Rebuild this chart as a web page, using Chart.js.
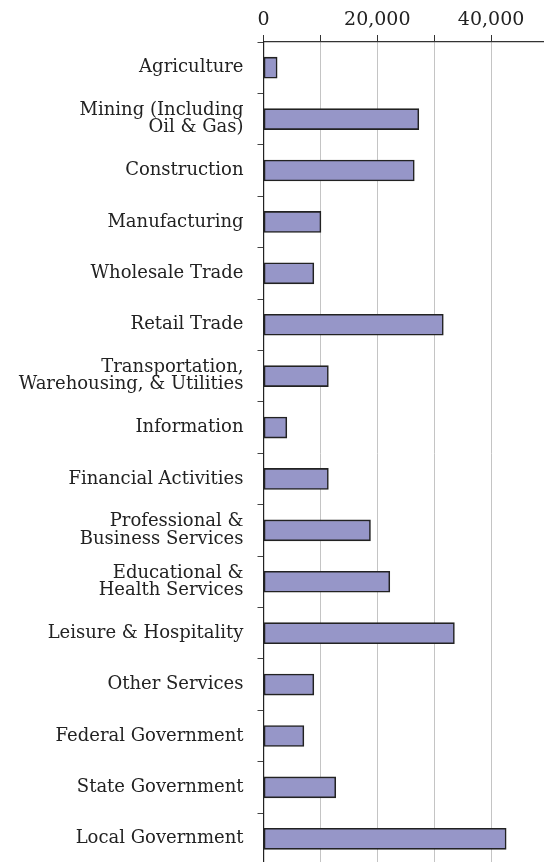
<!DOCTYPE html>
<html>
<head>
<meta charset="utf-8">
<script src="https://cdn.jsdelivr.net/npm/chart.js@4.4.1/dist/chart.umd.min.js"></script>
<style>
  html, body { margin: 0; padding: 0; background: #fff; overflow: hidden; }
  canvas { display: block; }
</style>
</head>
<body>
<canvas id="industryChart" width="548" height="866"></canvas>
<script>
// Data
const industries = [
  'Agriculture',
  ['Mining (Including', 'Oil & Gas)'],
  'Construction',
  'Manufacturing',
  'Wholesale Trade',
  'Retail Trade',
  ['Transportation,', 'Warehousing, & Utilities'],
  'Information',
  'Financial Activities',
  ['Professional &', 'Business Services'],
  ['Educational &', 'Health Services'],
  'Leisure & Hospitality',
  'Other Services',
  'Federal Government',
  'State Government',
  'Local Government'
]
const workers = [2400, 27300, 26500, 10100, 8850, 31600, 11400, 4100, 11400, 18800, 22200, 33550, 8850, 7100, 12700, 42650]
const labeledTicks = [0, 20000, 40000]

const labelFont = { family: 'DejaVu Serif', size: 18, lineHeight: 0.95 }

const ctx = document.getElementById('industryChart').getContext('2d')
new Chart(ctx, {
  type: 'bar',
  data: {
    labels: industries,
    datasets: [{
      data: workers,
      backgroundColor: '#9696c8',
      borderColor: '#222',
      borderWidth: 1.6,
      borderSkipped: false,
      barThickness: 21
    }]
  },
  options: {
    indexAxis: 'y',
    responsive: false,
    animation: false,
    layout: { padding: { bottom: 1.5 } },
    plugins: {
      legend: { display: false },
      tooltip: { enabled: false }
    },
    scales: {
      x: {
        position: 'top',
        min: 0,
        max: 50000,
        // keep the plot area fixed, no room kept for label overhang
        afterFit: (scale) => {
          scale.height = 42
          scale.paddingLeft = 0
          scale.paddingRight = 0
        },
        ticks: {
          stepSize: 10000,
          autoSkip: false,
          maxRotation: 0,
          padding: 4,
          color: '#222',
          font: { family: 'DejaVu Serif', size: 19 },
          callback: (value) => labeledTicks.includes(value) ? value.toLocaleString('en-US') : ''
        },
        grid: {
          color: '#c4c4c4',
          lineWidth: 1,
          tickColor: '#333',
          tickLength: 7
        },
        border: { color: '#333', width: 1.2 }
      },
      y: {
        afterFit: (scale) => {
          scale.width = 263.5
          scale.paddingTop = 0
          scale.paddingBottom = 0
        },
        ticks: {
          autoSkip: false,
          padding: 14,
          color: '#222',
          font: labelFont
        },
        grid: {
          offset: true,
          drawOnChartArea: false,
          color: '#444',
          tickLength: 6
        },
        border: { color: '#222', width: 1.2 }
      }
    }
  }
})
</script>
</body>
</html>
